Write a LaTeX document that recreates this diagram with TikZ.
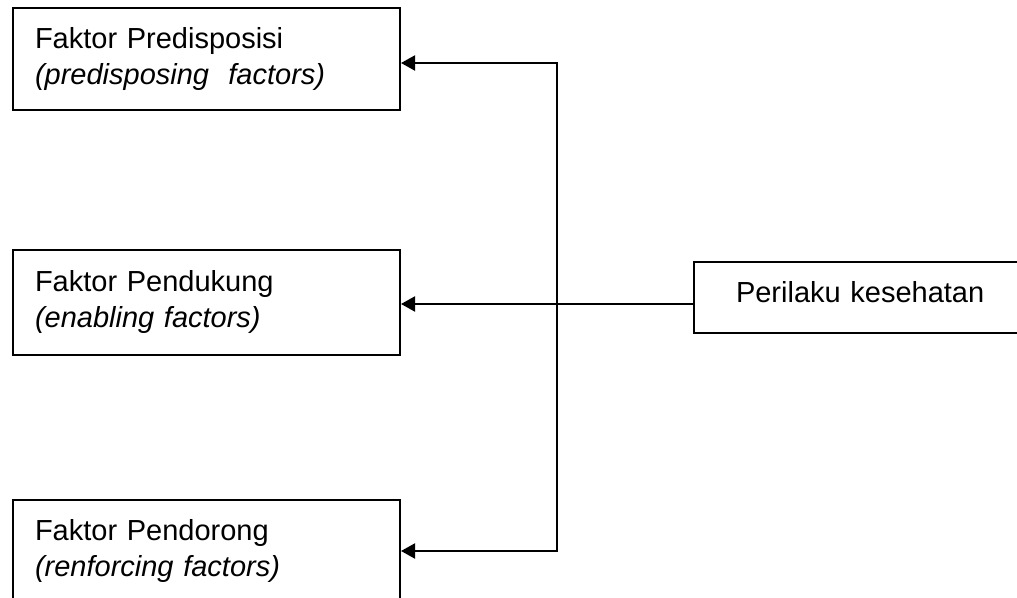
\documentclass[tikz,border=0pt]{standalone}
\usepackage{fontspec}
\setmainfont{Liberation Sans}
\usetikzlibrary{arrows.meta}

\begin{document}
\begin{tikzpicture}[x=0.4pt,y=-0.4pt,line width=0.8pt,
        >={Triangle[length=5.6pt,width=6pt]},
        faktor/.style={draw,rectangle,anchor=north west,align=left,
            text width=137.2pt,inner xsep=8.8pt,minimum height=41pt,
            font=\fontsize{11.6pt}{14.4pt}\selectfont},
        hasil/.style={draw,rectangle,anchor=west,align=left,
            text width=110pt,inner xsep=16.8pt,minimum height=28.4pt,text depth=4.8pt,
            font=\fontsize{11.6pt}{14.4pt}\selectfont}]
        \useasboundingbox (0,0) rectangle (1017,598);
        \clip (0,0) rectangle (1017,598);
        \node[faktor] (predisposisi) at (12,7) {Faktor Predisposisi\\\textit{(predisposing~~factors)}};
        \node[faktor,minimum height=42pt] (pendukung) at (12,249) {Faktor Pendukung\\\textit{(enabling factors)}};
        \node[faktor] (pendorong) at (12,499) {Faktor Pendorong\\\textit{(renforcing factors)}};
        \node[hasil] (perilaku) at (693,297.5) {Perilaku kesehatan};
        \coordinate (cabang1) at (557,63);
        \coordinate (cabang2) at (557,304);
        \coordinate (cabang3) at (557,551);
        \draw[<->] (predisposisi.east |- cabang1) -- (cabang1) -- (cabang3) -- (pendorong.east |- cabang3);
        \draw[->] (perilaku.west |- cabang2) -- (pendukung.east |- cabang2);
    \end{tikzpicture}
\end{document}
